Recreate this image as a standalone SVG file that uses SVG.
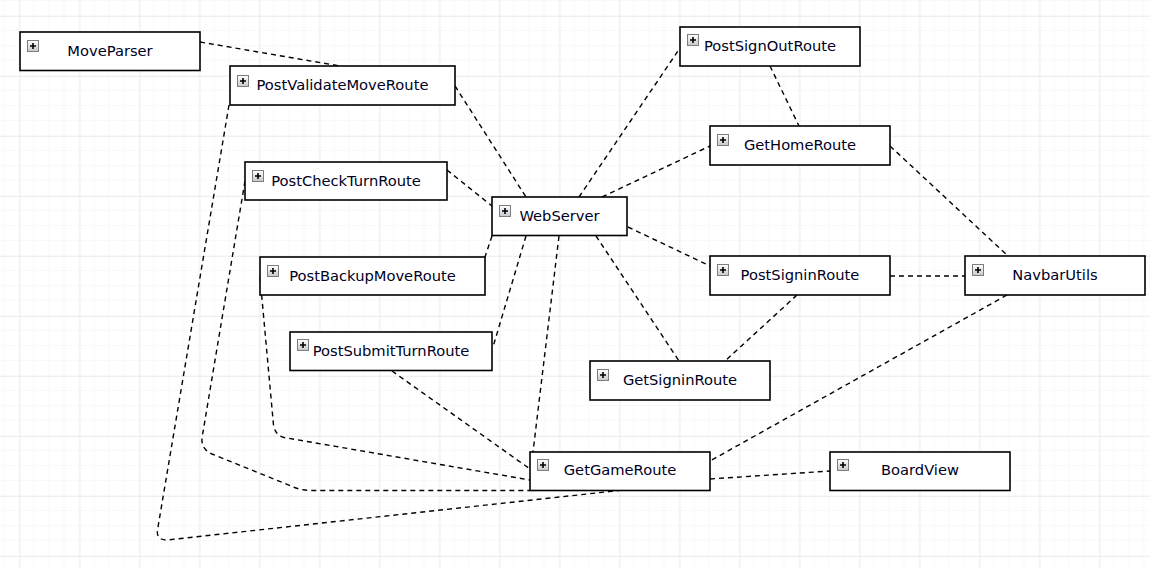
<svg xmlns="http://www.w3.org/2000/svg" width="1150" height="569" viewBox="0 0 1150 569">
<defs>
<pattern id="minor" x="4.5" y="1" width="15" height="15" patternUnits="userSpaceOnUse">
<path d="M15 0V15M0 15H15" fill="none" stroke="#f3f3f3" stroke-width="1"/>
</pattern>
<pattern id="major" x="19.5" y="16" width="60" height="60" patternUnits="userSpaceOnUse">
<path d="M0 0V60M0 0H60" fill="none" stroke="#e2e2e2" stroke-width="1.2"/>
</pattern>
<linearGradient id="ig" x1="0" y1="0" x2="0" y2="1">
<stop offset="0" stop-color="#ffffff"/>
<stop offset="1" stop-color="#c4c8cc"/>
</linearGradient>
<g id="icon">
<rect x="0.5" y="0.5" width="11" height="11" fill="url(#ig)" stroke="#7d7d7d" stroke-width="1"/>
<path d="M3 6H9M6 3V9" stroke="#000" stroke-width="1.6"/>
</g>
</defs>
<style>
.box{fill:#fff;stroke:#000;stroke-width:1.6}
.lbl{font-family:"DejaVu Sans",Verdana,sans-serif;font-size:14.7px;fill:#00001e;text-anchor:middle}
.con{fill:none;stroke:#000;stroke-width:1.4;stroke-dasharray:5 4}
</style>
<rect width="1150" height="569" fill="#fff"/>
<rect width="1150" height="569" fill="url(#minor)"/>
<rect width="1150" height="569" fill="url(#major)"/>

<g id="connectors">
<path class="con" d="M200,42 L340,66"/>
<path class="con" d="M455,86 L526,197"/>
<path class="con" d="M447,170 L492,206"/>
<path class="con" d="M492,236 L485,257"/>
<path class="con" d="M526,236 L493,347"/>
<path class="con" d="M559,236 L533,452"/>
<path class="con" d="M579,197 L680,48"/>
<path class="con" d="M602,197 L710,146"/>
<path class="con" d="M628,227 L710,266"/>
<path class="con" d="M596,236 L679,361"/>
<path class="con" d="M770,66 L799,126"/>
<path class="con" d="M890,146 L1008,256"/>
<path class="con" d="M890,276 L965,276"/>
<path class="con" d="M797,295 L725,361"/>
<path class="con" d="M1007,295 L710,461"/>
<path class="con" d="M710,479 L830,471"/>
<path class="con" d="M392,371 L530,469"/>
<path class="con" d="M260,277 L273.5,425 Q275,435 284,437.5 L530,480"/>
<path class="con" d="M245,181 L202,438 Q201,449 212,454 L291,486 Q300,490.5 312,490.5 L530,490.5"/>
<path class="con" d="M229,105 L157.5,530 Q156,540 167,540 L619,490.5"/>
</g>

<g id="MoveParser">
<rect class="box" x="20" y="32" width="180" height="38.5"/>
<use href="#icon" x="27" y="40"/>
<text class="lbl" x="110" y="55.5">MoveParser</text>
</g>
<g id="PostValidateMoveRoute">
<rect class="box" x="230" y="66" width="225" height="39"/>
<use href="#icon" x="237" y="75"/>
<text class="lbl" x="342.5" y="90">PostValidateMoveRoute</text>
</g>
<g id="PostCheckTurnRoute">
<rect class="box" x="245" y="162" width="202" height="38"/>
<use href="#icon" x="252" y="170"/>
<text class="lbl" x="346" y="186">PostCheckTurnRoute</text>
</g>
<g id="WebServer">
<rect class="box" x="492" y="197" width="135" height="38.5"/>
<use href="#icon" x="499" y="205"/>
<text class="lbl" x="559.5" y="221">WebServer</text>
</g>
<g id="PostBackupMoveRoute">
<rect class="box" x="260" y="257" width="225" height="38"/>
<use href="#icon" x="267" y="265"/>
<text class="lbl" x="372.5" y="281">PostBackupMoveRoute</text>
</g>
<g id="PostSubmitTurnRoute">
<rect class="box" x="290" y="332" width="202" height="38.5"/>
<use href="#icon" x="297" y="339"/>
<text class="lbl" x="391" y="356">PostSubmitTurnRoute</text>
</g>
<g id="PostSignOutRoute">
<rect class="box" x="680" y="27" width="180" height="39"/>
<use href="#icon" x="687" y="34"/>
<text class="lbl" x="770" y="51">PostSignOutRoute</text>
</g>
<g id="GetHomeRoute">
<rect class="box" x="710" y="126" width="180" height="39"/>
<use href="#icon" x="717" y="134"/>
<text class="lbl" x="800" y="150">GetHomeRoute</text>
</g>
<g id="PostSigninRoute">
<rect class="box" x="710" y="256" width="180" height="39"/>
<use href="#icon" x="717" y="264"/>
<text class="lbl" x="800" y="280">PostSigninRoute</text>
</g>
<g id="NavbarUtils">
<rect class="box" x="965" y="256" width="180" height="39"/>
<use href="#icon" x="972" y="264"/>
<text class="lbl" x="1055" y="280">NavbarUtils</text>
</g>
<g id="GetSigninRoute">
<rect class="box" x="590" y="361" width="180" height="39"/>
<use href="#icon" x="597" y="369"/>
<text class="lbl" x="680" y="385">GetSigninRoute</text>
</g>
<g id="GetGameRoute">
<rect class="box" x="530" y="452" width="180" height="38.5"/>
<use href="#icon" x="537" y="459"/>
<text class="lbl" x="620" y="475">GetGameRoute</text>
</g>
<g id="BoardView">
<rect class="box" x="830" y="452" width="180" height="38.5"/>
<use href="#icon" x="837" y="459"/>
<text class="lbl" x="920" y="475">BoardView</text>
</g>
</svg>
